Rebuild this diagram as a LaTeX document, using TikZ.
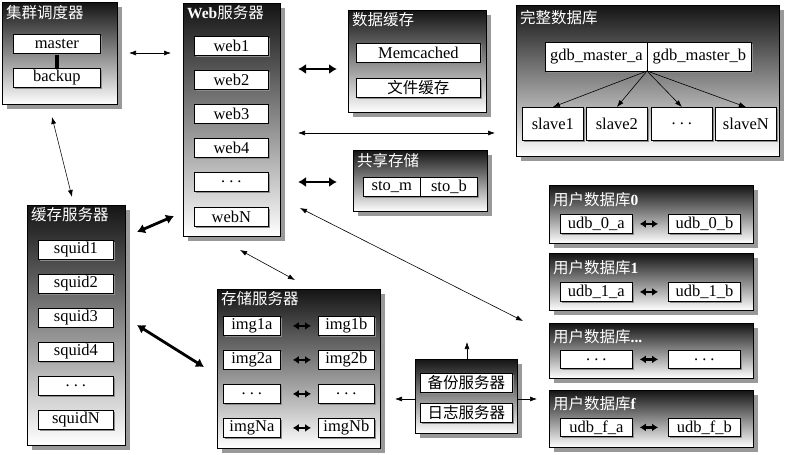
\documentclass[tikz,border=0pt]{standalone}
\usepackage{fontspec}
\setmainfont{Liberation Serif}
\newfontfamily\cjk{Noto Sans CJK SC}
\usetikzlibrary{arrows.meta}

\tikzset{
  panelbox/.style={draw=black, line width=0.8pt, top color=black!92, bottom color=white,
    inner sep=0pt, anchor=north west},
  shadowbox/.style={fill=black!40},
  ptitle/.style={text=white, font=\fontsize{15.5}{16}\selectfont\cjk, anchor=west, inner sep=0pt},
  itembox/.style={draw=black, fill=white, line width=0.8pt, font=\fontsize{16.5}{17}\selectfont,
    inner sep=0pt, anchor=north west},
  itemshadow/.style={fill=black!45},
  thinarrow/.style={{Latex[length=7pt,width=5pt]}-{Latex[length=7pt,width=5pt]}, line width=0.6pt},
  thinone/.style={-{Latex[length=7pt,width=5pt]}, line width=0.6pt},
  thickarrow/.style={{Latex[length=8pt,width=10pt]}-{Latex[length=8pt,width=10pt]}, line width=2.8pt},
  pairarrow/.style={{Latex[length=6pt,width=8pt]}-{Latex[length=6pt,width=8pt]}, line width=2.4pt},
}

% panel: name, x1, y1, x2, y2, title, title offset
\newcommand{\mkpanel}[7]{%
  \fill[shadowbox] (#2+5,#3+5) rectangle (#4+5,#5+5);
  \node[panelbox, minimum width={(#4-#2)*1pt}, minimum height={(#5-#3)*1pt}] (#1) at (#2,#3) {};
  \node[ptitle] (#1-title) at (#2+4,#3+#7) {#6};
}
% box: name, x1, y1, x2, y2, text
\newcommand{\mkbox}[6]{%
  \fill[itemshadow] (#2+1.5,#3+1.5) rectangle (#4+1.5,#5+1.5);
  \node[itembox, minimum width={(#4-#2)*1pt}, minimum height={(#5-#3)*1pt}] (#1) at (#2,#3) {#6};
}
\newcommand{\dotsx}{.\hspace{4pt}.\hspace{4pt}.}
\newcommand{\cjkbox}{\fontsize{15.5}{16}\selectfont\cjk}

\begin{document}
\begin{tikzpicture}[x=1pt,y=-1pt]
\fill[white] (0,0) rectangle (790,455);
\useasboundingbox (0,0) rectangle (790,455);

% cluster scheduler
\mkpanel{cluster}{2}{2}{117}{104}{集群调度器}{11}
\draw[line width=4pt] (57,53) -- (57,68);
\mkbox{master}{13}{34}{100}{53}{master}
\mkbox{backup}{13}{68}{100}{87}{backup}

% web servers
\mkpanel{web}{183}{3}{280}{236}{{\rmfamily\bfseries Web}服务器}{10}
\mkbox{web1}{194}{36}{268}{55}{web1}
\mkbox{web2}{194}{70}{268}{89}{web2}
\mkbox{web3}{194}{104}{268}{123}{web3}
\mkbox{web4}{194}{138}{268}{157}{web4}
\mkbox{webd}{194}{172}{268}{191}{\dotsx}
\mkbox{webN}{194}{207}{268}{226}{webN}

% data cache
\mkpanel{dcache}{348}{10}{486}{112}{数据缓存}{10}
\mkbox{memc}{356}{43}{480}{62}{Memcached}
\mkbox{fcache}{356}{78}{480}{97}{\cjkbox 文件缓存}

% shared storage
\mkpanel{share}{353}{150}{487}{211}{共享存储}{11}
\mkbox{stom}{363}{177}{420}{196}{sto\_m}
\mkbox{stob}{420}{177}{477}{196}{sto\_b}

% full database
\mkpanel{gdb}{516}{5}{779}{156}{完整数据库}{13}
\mkbox{gdba}{545}{42}{647}{71}{gdb\_master\_a}
\mkbox{gdbb}{647}{42}{751}{71}{gdb\_master\_b}
\mkbox{slave1}{522}{107}{583}{140}{slave1}
\mkbox{slave2}{586}{107}{647}{140}{slave2}
\mkbox{slaved}{651}{107}{712}{140}{\dotsx}
\mkbox{slaveN}{715}{107}{776}{140}{slaveN}
\coordinate (gdbsplit) at (647,71);
\foreach \s in {slave1,slave2,slaved,slaveN}
  \draw[thinone] (gdbsplit) -- (\s.north);

% cache servers
\mkpanel{squid}{27}{205}{125}{445}{缓存服务器}{10}
\mkbox{squid1}{38}{240}{113}{259}{squid1}
\mkbox{squid2}{38}{274}{113}{293}{squid2}
\mkbox{squid3}{38}{308}{113}{327}{squid3}
\mkbox{squid4}{38}{342}{113}{361}{squid4}
\mkbox{squidd}{38}{376}{113}{395}{\dotsx}
\mkbox{squidN}{38}{410}{113}{429}{squidN}

% image storage servers
\mkpanel{store}{217}{289}{380}{448}{存储服务器}{10}
\mkbox{img1a}{223}{316}{280}{335}{img1a}
\mkbox{img1b}{318}{316}{374}{335}{img1b}
\mkbox{img2a}{223}{350}{280}{369}{img2a}
\mkbox{img2b}{318}{350}{374}{369}{img2b}
\mkbox{imgda}{223}{384}{280}{403}{\dotsx}
\mkbox{imgdb}{318}{384}{374}{403}{\dotsx}
\mkbox{imgNa}{223}{418}{280}{437}{imgNa}
\mkbox{imgNb}{318}{418}{374}{437}{imgNb}
\foreach \r in {1,2,d,N}
  \draw[pairarrow] ([xshift=12pt]img\r a.east) -- ([xshift=-7pt]img\r b.west);

% backup and log servers
\fill[shadowbox] (420,364) rectangle (522,438);
\node[panelbox, minimum width=102pt, minimum height=74pt] (bak) at (415,359) {};
\mkbox{bakserv}{420}{373}{512}{392}{\cjkbox 备份服务器}
\mkbox{logserv}{420}{403}{512}{422}{\cjkbox 日志服务器}
\coordinate (bakup) at (467,342);
\coordinate (bakleft) at (395,399);
\coordinate (bakright) at (537,399);
\draw[thinone] (bak.north -| bakup) -- (bakup);
\draw[thinone] (bak.west |- bakleft) -- (bakleft);
\draw[thinone] (bak.east |- bakright) -- (bakright);

% user databases
\mkpanel{udb0}{549}{185}{753}{243}{用户数据库{\rmfamily\bfseries 0}}{15}
\mkbox{udb0a}{560}{214}{632}{233}{udb\_0\_a}
\mkbox{udb0b}{668}{214}{740}{233}{udb\_0\_b}
\mkpanel{udb1}{549}{253}{753}{310}{用户数据库{\rmfamily\bfseries 1}}{15}
\mkbox{udb1a}{560}{282}{632}{301}{udb\_1\_a}
\mkbox{udb1b}{668}{282}{740}{301}{udb\_1\_b}
\mkpanel{udbd}{549}{323}{753}{378}{用户数据库{\rmfamily\bfseries ...}}{14}
\mkbox{udbda}{560}{350}{632}{368}{\dotsx}
\mkbox{udbdb}{668}{350}{740}{368}{\dotsx}
\mkpanel{udbf}{549}{390}{753}{447}{用户数据库{\rmfamily\bfseries f}}{14}
\mkbox{udbfa}{560}{418}{632}{436}{udb\_f\_a}
\mkbox{udbfb}{668}{418}{740}{436}{udb\_f\_b}
\foreach \r in {0,1,d,f}
  \draw[pairarrow] ([xshift=7pt]udb\r a.east) -- ([xshift=-10pt]udb\r b.west);

% connections between server groups
\coordinate (a1s) at (129,53);   \coordinate (a1e) at (171,53);
\coordinate (a2s) at (52,117);   \coordinate (a2e) at (72,197);
\coordinate (a3s) at (298,69);   \coordinate (a3e) at (337,69);
\coordinate (a4s) at (298,133);  \coordinate (a4e) at (495,133);
\coordinate (a5s) at (298,182);  \coordinate (a5e) at (337,182);
\coordinate (a6s) at (300,208);  \coordinate (a6e) at (523,321);
\coordinate (a7s) at (137,232);  \coordinate (a7e) at (174,216);
\coordinate (a8s) at (240,250);  \coordinate (a8e) at (295,280);
\coordinate (a9s) at (137,325);  \coordinate (a9e) at (204,367);
\draw[thinarrow] (a1s) -- (a1e);
\draw[thinarrow] (a2s) -- (a2e);
\draw[thickarrow] (a3s) -- (a3e);
\draw[thinarrow] (a4s) -- (a4e);
\draw[thickarrow] (a5s) -- (a5e);
\draw[thinarrow] (a6s) -- (a6e);
\draw[thickarrow] (a7s) -- (a7e);
\draw[thinarrow] (a8s) -- (a8e);
\draw[thickarrow] (a9s) -- (a9e);
\end{tikzpicture}
\end{document}
